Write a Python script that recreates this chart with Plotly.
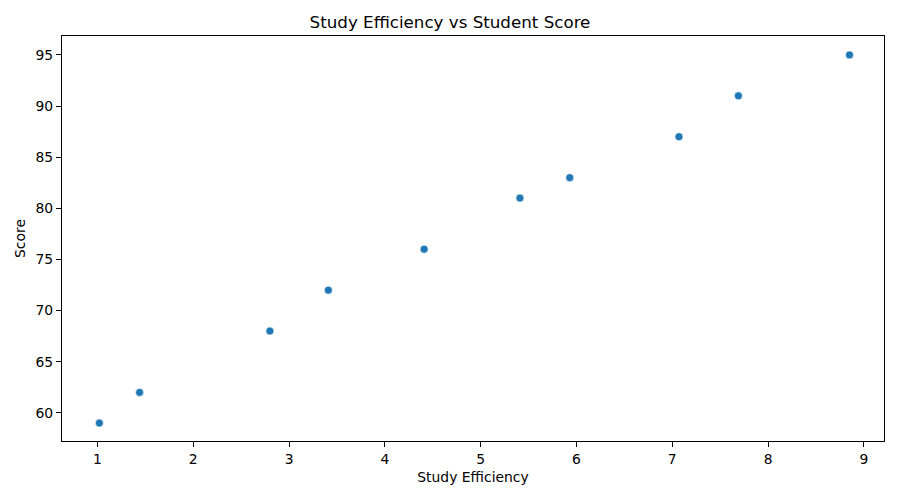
import plotly.graph_objects as go

efficiency = [1.02, 1.44, 2.80, 3.41, 4.41, 5.41, 5.93, 7.07, 7.69, 8.85]
scores = [59, 62, 68, 72, 76, 81, 83, 87, 91, 95]

FONT = "DejaVu Sans"
fig = go.Figure()
fig.add_trace(go.Scatter(
    x=efficiency, y=scores, mode="markers",
    marker=dict(color="#1f77b4", size=8, line=dict(color="white", width=0.6)),
    showlegend=False,
))

axis_common = dict(
    showline=True, linecolor="black", linewidth=1, mirror=True,
    ticks="outside", ticklen=5, tickcolor="black", showgrid=False, zeroline=False,
    tickfont=dict(family=FONT, size=13.9, color="black"),
)
fig.update_layout(
    width=900, height=500,
    paper_bgcolor="white", plot_bgcolor="white",
    margin=dict(l=62, r=16, t=36, b=59),
    title=dict(text="Study Efficiency vs Student Score", x=0.5, xanchor="center",
               y=1 - 22/500, yanchor="middle",
               font=dict(family=FONT, size=16.7, color="black")),
    xaxis=dict(range=[0.63, 9.21], dtick=1, tick0=1,
               title=dict(text="Study Efficiency", font=dict(family=FONT, size=13.9, color="black"), standoff=6),
               **axis_common),
    yaxis=dict(range=[57.25, 96.85], dtick=5, tick0=60,
               title=dict(text="Score", font=dict(family=FONT, size=13.9, color="black"), standoff=6),
               **axis_common),
)
fig.write_html("out.html", config={"displayModeBar": False},
               post_script="document.body.style.margin='0';document.body.style.overflow='hidden';")
